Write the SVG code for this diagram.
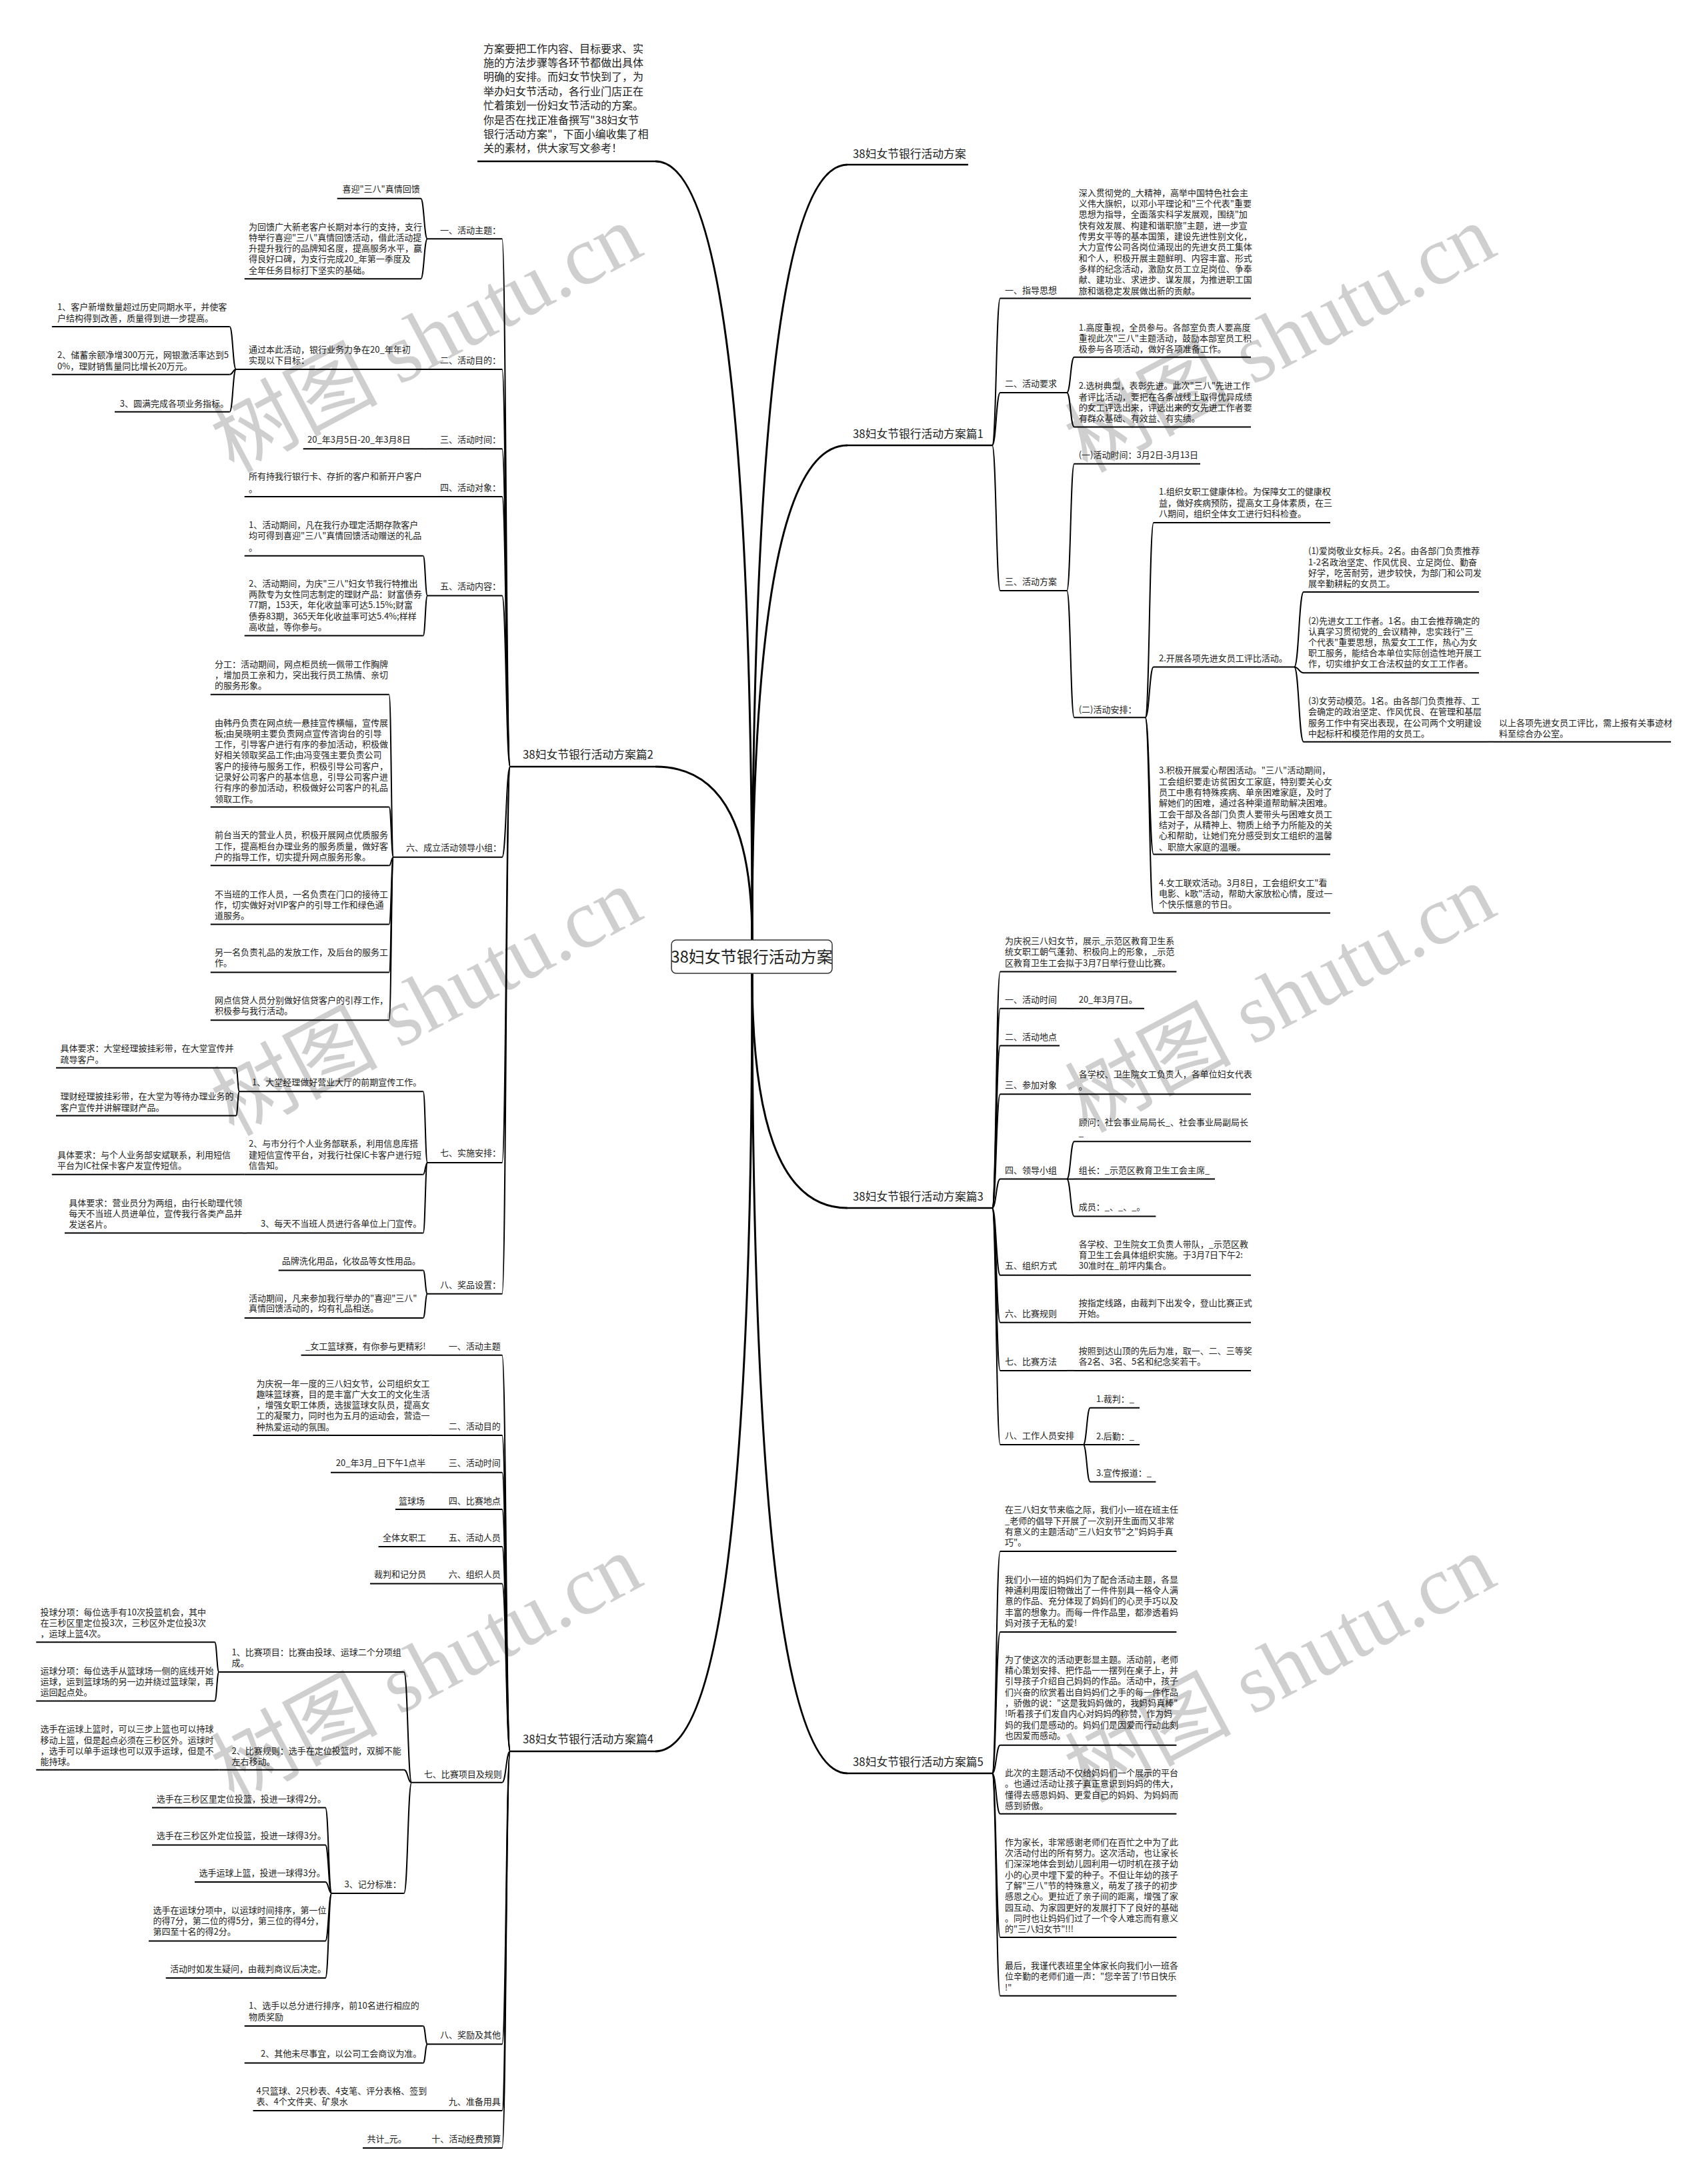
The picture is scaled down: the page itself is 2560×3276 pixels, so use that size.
<svg xmlns="http://www.w3.org/2000/svg" width="2560" height="3276" viewBox="0 0 2560 3276">
<style>
text{font-family:'Noto Sans CJK SC','Noto Sans',sans-serif;fill:#222}
.s{font-size:13px}
.m{font-size:16px}
.b{font-size:16.8px}
.r{font-size:24px}
.ul{stroke:#000;stroke-width:2;fill:none}
.ub{stroke:#000;stroke-width:2.5;fill:none}
.cn path{fill:none;stroke:#000;stroke-width:2}
.mb path{fill:none;stroke:#000;stroke-width:3}
.wm text{font-family:'Liberation Serif','Noto Sans CJK SC',serif;font-size:125px;fill:#000;fill-opacity:0.19}
</style>
<rect width="2560" height="3276" fill="#fff"/>
<g id="main-connectors" class="mb">
<path d="M983 242C1090.3 242 1128 709.2 1128 1410"/>
<path d="M1271 247C1165.2 247 1128 712.2 1128 1410"/>
<path d="M1271 668C1165.2 668 1128 964.8 1128 1410"/>
<path d="M983 1150C1090.3 1150 1128 1254 1128 1410"/>
<path d="M1271 1812C1165.2 1812 1128 1671.2 1128 1460"/>
<path d="M983 2627C1090.3 2627 1128 2160.2 1128 1460"/>
<path d="M1271 2660C1165.2 2660 1128 2180 1128 1460"/>
</g>
<g id="connectors" class="cn">
<path d="M1488 668C1494 668 1494 447.5 1500 447.5"/>
<path d="M1488 668C1494 668 1494 589 1500 589"/>
<path d="M1488 668C1494 668 1494 886 1500 886"/>
<path d="M1600 447.5H1611"/>
<path d="M1600 589C1605.5 589 1605.5 535.7 1611 535.7"/>
<path d="M1600 589C1605.5 589 1605.5 640.4 1611 640.4"/>
<path d="M1600 886C1605.5 886 1605.5 695.7 1611 695.7"/>
<path d="M1600 886C1605.5 886 1605.5 1076.3 1611 1076.3"/>
<path d="M1717.6 1076.3C1723.8 1076.3 1723.8 784 1730 784"/>
<path d="M1717.6 1076.3C1723.8 1076.3 1723.8 1000.5 1730 1000.5"/>
<path d="M1717.6 1076.3C1723.8 1076.3 1723.8 1281.4 1730 1281.4"/>
<path d="M1717.6 1076.3C1723.8 1076.3 1723.8 1369.5 1730 1369.5"/>
<path d="M1941 1000.5C1948 1000.5 1948 888 1955 888"/>
<path d="M1941 1000.5C1948 1000.5 1948 1009.3 1955 1009.3"/>
<path d="M1941 1000.5C1948 1000.5 1948 1112.7 1955 1112.7"/>
<path d="M2231 1112.7H2240"/>
<path d="M1488 1812C1494 1812 1494 1457.5 1500 1457.5"/>
<path d="M1488 1812C1494 1812 1494 1512.8 1500 1512.8"/>
<path d="M1488 1812C1494 1812 1494 1568.6 1500 1568.6"/>
<path d="M1488 1812C1494 1812 1494 1641.2 1500 1641.2"/>
<path d="M1488 1812C1494 1812 1494 1768.6 1500 1768.6"/>
<path d="M1488 1812C1494 1812 1494 1912.8 1500 1912.8"/>
<path d="M1488 1812C1494 1812 1494 1983.8 1500 1983.8"/>
<path d="M1488 1812C1494 1812 1494 2055.9 1500 2055.9"/>
<path d="M1488 1812C1494 1812 1494 2167 1500 2167"/>
<path d="M1600 1512.8H1611"/>
<path d="M1600 1641.2H1611"/>
<path d="M1600 1912.8H1611"/>
<path d="M1600 1983.8H1611"/>
<path d="M1600 2055.9H1611"/>
<path d="M1600 1768.6C1605.5 1768.6 1605.5 1712.2 1611 1712.2"/>
<path d="M1600 1768.6H1611"/>
<path d="M1600 1768.6C1605.5 1768.6 1605.5 1824.4 1611 1824.4"/>
<path d="M1624.6 2167C1629.8 2167 1629.8 2111.7 1635 2111.7"/>
<path d="M1624.6 2167H1635"/>
<path d="M1624.6 2167C1629.8 2167 1629.8 2222.8 1635 2222.8"/>
<path d="M1488 2660C1494 2660 1494 2327 1500 2327"/>
<path d="M1488 2660C1494 2660 1494 2447.9 1500 2447.9"/>
<path d="M1488 2660C1494 2660 1494 2617.8 1500 2617.8"/>
<path d="M1488 2660C1494 2660 1494 2720.8 1500 2720.8"/>
<path d="M1488 2660C1494 2660 1494 2906 1500 2906"/>
<path d="M1488 2660C1494 2660 1494 2993.8 1500 2993.8"/>
<path d="M765 1150C759 1150 759 358.3 753 358.3"/>
<path d="M765 1150C759 1150 759 554 753 554"/>
<path d="M765 1150C759 1150 759 673.3 753 673.3"/>
<path d="M765 1150C759 1150 759 745 753 745"/>
<path d="M765 1150C759 1150 759 893.4 753 893.4"/>
<path d="M765 1150C759 1150 759 1285.7 753 1285.7"/>
<path d="M765 1150C759 1150 759 1743.9 753 1743.9"/>
<path d="M765 1150C759 1150 759 1940.8 753 1940.8"/>
<path d="M641 358.3C636 358.3 636 297.7 631 297.7"/>
<path d="M641 358.3C636 358.3 636 418.3 631 418.3"/>
<path d="M641 554H635"/>
<path d="M641 673.3H635"/>
<path d="M641 745H635"/>
<path d="M354 554C349.2 554 349.2 490 344.4 490"/>
<path d="M354 554C349.2 554 349.2 561.7 344.4 561.7"/>
<path d="M354 554C349.2 554 349.2 617.7 344.4 617.7"/>
<path d="M641 893.4C637.8 893.4 637.8 833.7 634.6 833.7"/>
<path d="M641 893.4C637.8 893.4 637.8 953.5 634.6 953.5"/>
<path d="M590 1285.7C586.8 1285.7 586.8 1041.7 583.5 1041.7"/>
<path d="M590 1285.7C586.8 1285.7 586.8 1210.5 583.5 1210.5"/>
<path d="M590 1285.7C586.8 1285.7 586.8 1298.3 583.5 1298.3"/>
<path d="M590 1285.7C586.8 1285.7 586.8 1386.5 583.5 1386.5"/>
<path d="M590 1285.7C586.8 1285.7 586.8 1458.6 583.5 1458.6"/>
<path d="M590 1285.7C586.8 1285.7 586.8 1530.3 583.5 1530.3"/>
<path d="M641 1743.9C637.8 1743.9 637.8 1637.3 634.6 1637.3"/>
<path d="M641 1743.9C637.8 1743.9 637.8 1761.7 634.6 1761.7"/>
<path d="M641 1743.9C637.8 1743.9 637.8 1849.6 634.6 1849.6"/>
<path d="M359 1637.3C356.5 1637.3 356.5 1601.7 354 1601.7"/>
<path d="M359 1637.3C356.5 1637.3 356.5 1673.4 354 1673.4"/>
<path d="M366.7 1761.7H360"/>
<path d="M370 1849.6H364"/>
<path d="M641 1940.8C637.8 1940.8 637.8 1905.6 634.6 1905.6"/>
<path d="M641 1940.8C637.8 1940.8 637.8 1976.9 634.6 1976.9"/>
<path d="M765 2627C759 2627 759 2032.7 753 2032.7"/>
<path d="M765 2627C759 2627 759 2152.9 753 2152.9"/>
<path d="M765 2627C759 2627 759 2208.7 753 2208.7"/>
<path d="M765 2627C759 2627 759 2264 753 2264"/>
<path d="M765 2627C759 2627 759 2320 753 2320"/>
<path d="M765 2627C759 2627 759 2375.5 753 2375.5"/>
<path d="M765 2627C759 2627 759 2673.7 753 2673.7"/>
<path d="M765 2627C759 2627 759 3066.3 753 3066.3"/>
<path d="M765 2627C759 2627 759 3166 753 3166"/>
<path d="M765 2627C759 2627 759 3222 753 3222"/>
<path d="M648 2032.7H642"/>
<path d="M648 2152.9H642"/>
<path d="M648 2208.7H642"/>
<path d="M648 2264H642"/>
<path d="M648 2320H642"/>
<path d="M648 2375.5H642"/>
<path d="M648 3166H642"/>
<path d="M641 3222H635"/>
<path d="M617.3 2673.7C611.6 2673.7 611.6 2508 605.9 2508"/>
<path d="M617.3 2673.7C611.6 2673.7 611.6 2654.7 605.9 2654.7"/>
<path d="M617.3 2673.7C611.6 2673.7 611.6 2839.9 605.9 2839.9"/>
<path d="M328.4 2508C325.2 2508 325.2 2463.3 322 2463.3"/>
<path d="M328.4 2508C325.2 2508 325.2 2551.5 322 2551.5"/>
<path d="M328.4 2654.7H322"/>
<path d="M497.4 2839.9C492.7 2839.9 492.7 2711.5 488 2711.5"/>
<path d="M497.4 2839.9C492.7 2839.9 492.7 2767.5 488 2767.5"/>
<path d="M497.4 2839.9C492.7 2839.9 492.7 2823 488 2823"/>
<path d="M497.4 2839.9C492.7 2839.9 492.7 2911.4 488 2911.4"/>
<path d="M497.4 2839.9C492.7 2839.9 492.7 2967 488 2967"/>
<path d="M641 3066.3C637.8 3066.3 637.8 3039 634.6 3039"/>
<path d="M641 3066.3C637.8 3066.3 637.8 3094.5 634.6 3094.5"/>
</g>

<g id="root"><rect x="1007" y="1410" width="241" height="50" rx="7" fill="#fff" stroke="#333" stroke-width="1.5"/><text class="r" x="1127.5" y="1443.5" text-anchor="middle">38妇女节银行活动方案</text></g>

<g id="intro"><text class="m"><tspan x="725" y="78.6">方案要把工作内容、目标要求、实</tspan><tspan x="725" y="100">施的方法步骤等各环节都做出具体</tspan><tspan x="725" y="121.4">明确的安排。而妇女节快到了，为</tspan><tspan x="725" y="142.8">举办妇女节活动，各行业门店正在</tspan><tspan x="725" y="164.2">忙着策划一份妇女节活动的方案。</tspan><tspan x="725" y="185.6">你是否在找正准备撰写"38妇女节</tspan><tspan x="725" y="207">银行活动方案"，下面小编收集了相</tspan><tspan x="725" y="228.4">关的素材，供大家写文参考！</tspan></text><path class="ub" d="M716 242H983"/></g>

<g id="b0"><text class="b" x="1279" y="237">38妇女节银行活动方案</text><path class="ub" d="M1271 247H1452"/></g>

<g id="b1"><text class="b" x="1279" y="657">38妇女节银行活动方案篇1</text><path class="ub" d="M1271 668H1488"/></g>
<g id="b1-1"><text class="s" x="1507" y="440.2">一、指导思想</text><path class="ul" d="M1500 447.5H1600"/></g>
<g id="b1-1-1"><text class="s"><tspan x="1617.7" y="293.8">深入贯彻党的_大精神，高举中国特色社会主</tspan><tspan x="1617.7" y="310.1">义伟大旗帜，以邓小平理论和"三个代表"重要</tspan><tspan x="1617.7" y="326.4">思想为指导，全面落实科学发展观，围绕"加</tspan><tspan x="1617.7" y="342.7">快有效发展、构建和谐职旅"主题，进一步宣</tspan><tspan x="1617.7" y="359">传男女平等的基本国策，建设先进性别文化，</tspan><tspan x="1617.7" y="375.3">大力宣传公司各岗位涌现出的先进女员工集体</tspan><tspan x="1617.7" y="391.6">和个人，积极开展主题鲜明、内容丰富、形式</tspan><tspan x="1617.7" y="407.9">多样的纪念活动，激励女员工立足岗位、争奉</tspan><tspan x="1617.7" y="424.2">献、建功业、求进步、谋发展，为推进职工国</tspan><tspan x="1617.7" y="440.5">旅和谐稳定发展做出新的贡献。</tspan></text><path class="ul" d="M1611 447.5H1876"/></g>
<g id="b1-2"><text class="s" x="1507" y="579.5">二、活动要求</text><path class="ul" d="M1500 589H1600"/></g>
<g id="b1-2-1"><text class="s"><tspan x="1617.7" y="495.8">1.高度重视，全员参与。各部室负责人要高度</tspan><tspan x="1617.7" y="512.1">重视此次"三八"主题活动，鼓励本部室员工积</tspan><tspan x="1617.7" y="528.4">极参与各项活动，做好各项准备工作。</tspan></text><path class="ul" d="M1611 535.7H1876"/></g>
<g id="b1-2-2"><text class="s"><tspan x="1617.7" y="583.3">2.选树典型，表彰先进。此次"三八"先进工作</tspan><tspan x="1617.7" y="599.6">者评比活动，要把在各条战线上取得优异成绩</tspan><tspan x="1617.7" y="615.9">的女工评选出来，评选出来的女先进工作者要</tspan><tspan x="1617.7" y="632.2">有群众基础、有效益、有实绩。</tspan></text><path class="ul" d="M1611 640.4H1876"/></g>
<g id="b1-3"><text class="s" x="1507" y="877.2">三、活动方案</text><path class="ul" d="M1500 886H1600"/></g>
<g id="b1-3-1"><text class="s" x="1617.7" y="687.4">(一)活动时间：3月2日-3月13日</text><path class="ul" d="M1611 695.7H1800"/></g>
<g id="b1-3-2"><text class="s" x="1617.7" y="1068.5">(二)活动安排：</text><path class="ul" d="M1611 1076.3H1717.6"/></g>
<g id="b1-3-2-1"><text class="s"><tspan x="1738" y="742">1.组织女职工健康体检。为保障女工的健康权</tspan><tspan x="1738" y="758.5">益，做好疾病预防，提高女工身体素质，在三</tspan><tspan x="1738" y="775">八期间，组织全体女工进行妇科检查。</tspan></text><path class="ul" d="M1730 784H1995"/></g>
<g id="b1-3-2-2"><text class="s" x="1738" y="992">2.开展各项先进女员工评比活动。</text><path class="ul" d="M1730 1000.5H1941"/></g>
<g id="b1-3-2-2-1"><text class="s"><tspan x="1962" y="831.3">(1)爱岗敬业女标兵。2名。由各部门负责推荐</tspan><tspan x="1962" y="847.6">1-2名政治坚定、作风优良、立足岗位、勤奋</tspan><tspan x="1962" y="863.9">好学，吃苦耐劳，进步较快，为部门和公司发</tspan><tspan x="1962" y="880.2">展辛勤耕耘的女员工。</tspan></text><path class="ul" d="M1955 888H2218"/></g>
<g id="b1-3-2-2-2"><text class="s"><tspan x="1962" y="935.8">(2)先进女工工作者。1名。由工会推荐确定的</tspan><tspan x="1962" y="951.9">认真学习贯彻党的_会议精神，忠实践行"三</tspan><tspan x="1962" y="968">个代表"重要思想，热爱女工工作，热心为女</tspan><tspan x="1962" y="984.2">职工服务，能结合本单位实际创造性地开展工</tspan><tspan x="1962" y="1000.4">作，切实维护女工合法权益的女工工作者。</tspan></text><path class="ul" d="M1955 1009.3H2218"/></g>
<g id="b1-3-2-2-3"><text class="s"><tspan x="1962" y="1055.9">(3)女劳动模范。1名。由各部门负责推荐、工</tspan><tspan x="1962" y="1072.2">会确定的政治坚定、作风优良、在管理和基层</tspan><tspan x="1962" y="1088.5">服务工作中有突出表现，在公司两个文明建设</tspan><tspan x="1962" y="1104.8">中起标杆和模范作用的女员工。</tspan></text><path class="ul" d="M1955 1112.7H2231"/></g>
<g id="b1-3-2-2-3-1"><text class="s"><tspan x="2248" y="1088.5">以上各项先进女员工评比，需上报有关事迹材</tspan><tspan x="2248" y="1104.8">料至综合办公室。</tspan></text><path class="ul" d="M2240 1112.7H2506"/></g>
<g id="b1-3-2-3"><text class="s"><tspan x="1738" y="1160.4">3.积极开展爱心帮困活动。"三八"活动期间，</tspan><tspan x="1738" y="1176.7">工会组织要走访贫困女工家庭，特别要关心女</tspan><tspan x="1738" y="1193">员工中患有特殊疾病、单亲困难家庭，及时了</tspan><tspan x="1738" y="1209.3">解她们的困难，通过各种渠道帮助解决困难。</tspan><tspan x="1738" y="1225.6">工会干部及各部门负责人要带头与困难女员工</tspan><tspan x="1738" y="1241.9">结对子，从精神上、物质上给予力所能及的关</tspan><tspan x="1738" y="1258.2">心和帮助，让她们充分感受到女工组织的温馨</tspan><tspan x="1738" y="1274.5">、职旅大家庭的温暖。</tspan></text><path class="ul" d="M1730 1281.4H1995"/></g>
<g id="b1-3-2-4"><text class="s"><tspan x="1738" y="1328.8">4.女工联欢活动。3月8日，工会组织女工"看</tspan><tspan x="1738" y="1345.1">电影、k歌"活动，帮助大家放松心情，度过一</tspan><tspan x="1738" y="1361.4">个快乐惬意的节日。</tspan></text><path class="ul" d="M1730 1369.5H1995"/></g>

<g id="b3"><text class="b" x="1279" y="1801">38妇女节银行活动方案篇3</text><path class="ub" d="M1271 1812H1488"/></g>
<g id="b3-0"><text class="s"><tspan x="1507" y="1415.9">为庆祝三八妇女节，展示_示范区教育卫生系</tspan><tspan x="1507" y="1432.2">统女职工朝气蓬勃、积极向上的形象，_示范</tspan><tspan x="1507" y="1448.5">区教育卫生工会拟于3月7日举行登山比赛。</tspan></text><path class="ul" d="M1500 1457.5H1764.4"/></g>
<g id="b3-1"><text class="s" x="1507" y="1503.7">一、活动时间</text><path class="ul" d="M1500 1512.8H1600"/></g>
<g id="b3-1-1"><text class="s" x="1617.7" y="1503.7">20_年3月7日。</text><path class="ul" d="M1611 1512.8H1716"/></g>
<g id="b3-2"><text class="s" x="1507" y="1559.5">二、活动地点</text><path class="ul" d="M1500 1568.6H1589"/></g>
<g id="b3-3"><text class="s" x="1507" y="1632.2">三、参加对象</text><path class="ul" d="M1500 1641.2H1600"/></g>
<g id="b3-3-1"><text class="s"><tspan x="1617.7" y="1615.9">各学校、卫生院女工负责人，各单位妇女代表</tspan><tspan x="1617.7" y="1633.8">。</tspan></text><path class="ul" d="M1611 1641.2H1876"/></g>
<g id="b3-4"><text class="s" x="1507" y="1759.5">四、领导小组</text><path class="ul" d="M1500 1768.6H1600"/></g>
<g id="b3-4-1"><text class="s"><tspan x="1617.7" y="1688">顾问：社会事业局局长_、社会事业局副局长</tspan><tspan x="1617.7" y="1704.3">_</tspan></text><path class="ul" d="M1611 1712.2H1876"/></g>
<g id="b3-4-2"><text class="s" x="1617.7" y="1759.5">组长：_示范区教育卫生工会主席_</text><path class="ul" d="M1611 1768.6H1822"/></g>
<g id="b3-4-3"><text class="s" x="1617.7" y="1815.4">成员：_、_、_。</text><path class="ul" d="M1611 1824.4H1733.4"/></g>
<g id="b3-5"><text class="s" x="1507" y="1903.2">五、组织方式</text><path class="ul" d="M1500 1912.8H1600"/></g>
<g id="b3-5-1"><text class="s"><tspan x="1617.7" y="1870.7">各学校、卫生院女工负责人带队，_示范区教</tspan><tspan x="1617.7" y="1886.9">育卫生工会具体组织实施。于3月7日下午2:</tspan><tspan x="1617.7" y="1903.2">30准时在_前坪内集合。</tspan></text><path class="ul" d="M1611 1912.8H1876"/></g>
<g id="b3-6"><text class="s" x="1507" y="1975.3">六、比赛规则</text><path class="ul" d="M1500 1983.8H1600"/></g>
<g id="b3-6-1"><text class="s"><tspan x="1617.7" y="1959">按指定线路，由裁判下出发令，登山比赛正式</tspan><tspan x="1617.7" y="1975.3">开始。</tspan></text><path class="ul" d="M1611 1983.8H1876"/></g>
<g id="b3-7"><text class="s" x="1507" y="2046.8">七、比赛方法</text><path class="ul" d="M1500 2055.9H1600"/></g>
<g id="b3-7-1"><text class="s"><tspan x="1617.7" y="2030.5">按照到达山顶的先后为准，取一、二、三等奖</tspan><tspan x="1617.7" y="2046.8">各2名、3名、5名和纪念奖若干。</tspan></text><path class="ul" d="M1611 2055.9H1876"/></g>
<g id="b3-8"><text class="s" x="1507" y="2157.9">八、工作人员安排</text><path class="ul" d="M1500 2167H1624.6"/></g>
<g id="b3-8-1"><text class="s" x="1644" y="2102.6">1.裁判：_</text><path class="ul" d="M1635 2111.7H1709"/></g>
<g id="b3-8-2"><text class="s" x="1644" y="2159">2.后勤：_</text><path class="ul" d="M1635 2167H1709"/></g>
<g id="b3-8-3"><text class="s" x="1644" y="2213.8">3.宣传报道：_</text><path class="ul" d="M1635 2222.8H1733.4"/></g>

<g id="b5"><text class="b" x="1279" y="2649">38妇女节银行活动方案篇5</text><path class="ub" d="M1271 2660H1488"/></g>
<g id="b5-1"><text class="s"><tspan x="1507" y="2269.2">在三八妇女节来临之际，我们小一班在班主任</tspan><tspan x="1507" y="2285.5">_老师的倡导下开展了一次别开生面而又非常</tspan><tspan x="1507" y="2301.8">有意义的主题活动"三八妇女节"之"妈妈手真</tspan><tspan x="1507" y="2318.1">巧"。</tspan></text><path class="ul" d="M1500 2327H1764.4"/></g>
<g id="b5-2"><text class="s"><tspan x="1507" y="2373.8">我们小一班的妈妈们为了配合活动主题，各显</tspan><tspan x="1507" y="2390.1">神通利用废旧物做出了一件件别具一格令人满</tspan><tspan x="1507" y="2406.4">意的作品、充分体现了妈妈们的心灵手巧以及</tspan><tspan x="1507" y="2422.7">丰富的想象力。而每一件作品里，都渗透着妈</tspan><tspan x="1507" y="2439">妈对孩子无私的爱!</tspan></text><path class="ul" d="M1500 2447.9H1764.4"/></g>
<g id="b5-3"><text class="s"><tspan x="1507" y="2493.7">为了使这次的活动更彰显主题。活动前，老师</tspan><tspan x="1507" y="2510">精心策划安排、把作品一一摆列在桌子上，并</tspan><tspan x="1507" y="2526.3">引导孩子介绍自己妈妈的作品。活动中，孩子</tspan><tspan x="1507" y="2542.6">们兴奋的欣赏着出自妈妈们之手的每一件作品</tspan><tspan x="1507" y="2558.9">，骄傲的说："这是我妈妈做的，我妈妈真棒"</tspan><tspan x="1507" y="2575.2">!听着孩子们发自内心对妈妈的称赞，作为妈</tspan><tspan x="1507" y="2591.5">妈的我们是感动的。妈妈们是因爱而行动此刻</tspan><tspan x="1507" y="2607.8">也因爱而感动。</tspan></text><path class="ul" d="M1500 2617.8H1764.4"/></g>
<g id="b5-4"><text class="s"><tspan x="1507" y="2664.1">此次的主题活动不仅给妈妈们一个展示的平台</tspan><tspan x="1507" y="2680.4">。也通过活动让孩子真正意识到妈妈的伟大，</tspan><tspan x="1507" y="2696.7">懂得去感恩妈妈、更爱自己的妈妈、为妈妈而</tspan><tspan x="1507" y="2713">感到骄傲。</tspan></text><path class="ul" d="M1500 2720.8H1764.4"/></g>
<g id="b5-5"><text class="s"><tspan x="1507" y="2767.7">作为家长，非常感谢老师们在百忙之中为了此</tspan><tspan x="1507" y="2784">次活动付出的所有努力。这次活动，也让家长</tspan><tspan x="1507" y="2800.3">们深深地体会到幼儿园利用一切时机在孩子幼</tspan><tspan x="1507" y="2816.6">小的心灵中埋下爱的种子。不但让年幼的孩子</tspan><tspan x="1507" y="2832.9">了解"三八"节的特殊意义，萌发了孩子的初步</tspan><tspan x="1507" y="2849.2">感恩之心。更拉近了亲子间的距离，增强了家</tspan><tspan x="1507" y="2865.5">园互动、为家园更好的发展打下了良好的基础</tspan><tspan x="1507" y="2881.8">。同时也让妈妈们过了一个令人难忘而有意义</tspan><tspan x="1507" y="2898.1">的"三八妇女节"!!!</tspan></text><path class="ul" d="M1500 2906H1764.4"/></g>
<g id="b5-6"><text class="s"><tspan x="1507" y="2952.9">最后，我谨代表班里全体家长向我们小一班各</tspan><tspan x="1507" y="2969.2">位辛勤的老师们道一声："您辛苦了!节日快乐</tspan><tspan x="1507" y="2985.5">!"</tspan></text><path class="ul" d="M1500 2993.8H1764.4"/></g>

<g id="b2"><text class="b" x="784" y="1138">38妇女节银行活动方案篇2</text><path class="ub" d="M765 1150H983"/></g>
<g id="b2-1"><text class="s" x="660" y="349.5">一、活动主题：</text><path class="ul" d="M641 358.3H753"/></g>
<g id="b2-1-1"><text class="s" x="513.4" y="287.8">喜迎"三八"真情回馈</text><path class="ul" d="M505.7 297.7H631"/></g>
<g id="b2-1-2"><text class="s"><tspan x="373" y="344.5">为回馈广大新老客户长期对本行的支持，支行</tspan><tspan x="373" y="360.8">特举行喜迎"三八"真情回馈活动，借此活动提</tspan><tspan x="373" y="377.1">升提升我行的品牌知名度，提高服务水平，赢</tspan><tspan x="373" y="393.4">得良好口碑，为支行完成20_年第一季度及</tspan><tspan x="373" y="409.7">全年任务目标打下坚实的基础。</tspan></text><path class="ul" d="M366.7 418.3H631"/></g>
<g id="b2-2"><text class="s" x="660" y="545.2">二、活动目的：</text><path class="ul" d="M641 554H753"/></g>
<g id="b2-2-1"><text class="s"><tspan x="373" y="528.5">通过本此活动，银行业务力争在20_年年初</tspan><tspan x="373" y="545.2">实现以下目标：</tspan></text><path class="ul" d="M354 554H635"/></g>
<g id="b2-2-1-1"><text class="s"><tspan x="86" y="465.2">1、客户新增数量超过历史同期水平，并使客</tspan><tspan x="86" y="481.8">户结构得到改善，质量得到进一步提高。</tspan></text><path class="ul" d="M77.8 490H344.4"/></g>
<g id="b2-2-1-2"><text class="s"><tspan x="86" y="537.2">2、储蓄余额净增300万元，网银激活率达到5</tspan><tspan x="86" y="553.5">0%，理财销售量同比增长20万元。</tspan></text><path class="ul" d="M77.8 561.7H344.4"/></g>
<g id="b2-2-1-3"><text class="s" x="179.8" y="609.5">3、圆满完成各项业务指标。</text><path class="ul" d="M172 617.7H344.4"/></g>
<g id="b2-3"><text class="s" x="660" y="663.8">三、活动时间：</text><path class="ul" d="M641 673.3H753"/></g>
<g id="b2-3-1"><text class="s" x="461" y="663.8">20_年3月5日-20_年3月8日</text><path class="ul" d="M454.7 673.3H635"/></g>
<g id="b2-4"><text class="s" x="660" y="735.5">四、活动对象：</text><path class="ul" d="M641 745H753"/></g>
<g id="b2-4-1"><text class="s"><tspan x="373" y="718.8">所有持我行银行卡、存折的客户和新开户客户</tspan><tspan x="373" y="737.8">。</tspan></text><path class="ul" d="M366.7 745H635"/></g>
<g id="b2-5"><text class="s" x="660" y="883.7">五、活动内容：</text><path class="ul" d="M641 893.4H753"/></g>
<g id="b2-5-1"><text class="s"><tspan x="373" y="791.9">1、活动期间，凡在我行办理定活期存款客户</tspan><tspan x="373" y="807.8">均可得到喜迎"三八"真情回馈活动赠送的礼品</tspan><tspan x="373" y="826.3">。</tspan></text><path class="ul" d="M366.7 833.7H634.6"/></g>
<g id="b2-5-2"><text class="s"><tspan x="373" y="879.7">2、活动期间，为庆"三八"妇女节我行特推出</tspan><tspan x="373" y="896">两款专为女性同志制定的理财产品：财富债券</tspan><tspan x="373" y="912.3">77期，153天，年化收益率可达5.15%;财富</tspan><tspan x="373" y="928.6">债券83期，365天年化收益率可达5.4%;样样</tspan><tspan x="373" y="944.9">高收益，等你参与。</tspan></text><path class="ul" d="M366.7 953.5H634.6"/></g>
<g id="b2-6"><text class="s" x="609" y="1276.3">六、成立活动领导小组：</text><path class="ul" d="M590 1285.7H753"/></g>
<g id="b2-6-1"><text class="s"><tspan x="322" y="1000.7">分工：活动期间，网点柜员统一佩带工作胸牌</tspan><tspan x="322" y="1017">，增加员工亲和力，突出我行员工热情、亲切</tspan><tspan x="322" y="1033.3">的服务形象。</tspan></text><path class="ul" d="M315.7 1041.7H583.5"/></g>
<g id="b2-6-2"><text class="s"><tspan x="322" y="1088.5">由韩丹负责在网点统一悬挂宣传横幅，宣传展</tspan><tspan x="322" y="1104.8">板;由吴晓明主要负责网点宣传咨询台的引导</tspan><tspan x="322" y="1121.1">工作，引导客户进行有序的参加活动，积极做</tspan><tspan x="322" y="1137.4">好相关领取奖品工作;由冯变强主要负责公司</tspan><tspan x="322" y="1153.7">客户的接待与服务工作，积极引导公司客户，</tspan><tspan x="322" y="1170">记录好公司客户的基本信息，引导公司客户进</tspan><tspan x="322" y="1186.3">行有序的参加活动，积极做好公司客户的礼品</tspan><tspan x="322" y="1202.6">领取工作。</tspan></text><path class="ul" d="M315.7 1210.5H583.5"/></g>
<g id="b2-6-3"><text class="s"><tspan x="322" y="1257.4">前台当天的营业人员，积极开展网点优质服务</tspan><tspan x="322" y="1273.7">工作，提高柜台办理业务的服务质量，做好客</tspan><tspan x="322" y="1290">户的指导工作，切实提升网点服务形象。</tspan></text><path class="ul" d="M315.7 1298.3H583.5"/></g>
<g id="b2-6-4"><text class="s"><tspan x="322" y="1345.5">不当班的工作人员，一名负责在门口的接待工</tspan><tspan x="322" y="1361.8">作，切实做好对VIP客户的引导工作和绿色通</tspan><tspan x="322" y="1378.1">道服务。</tspan></text><path class="ul" d="M315.7 1386.5H583.5"/></g>
<g id="b2-6-5"><text class="s"><tspan x="322" y="1432.5">另一名负责礼品的发放工作，及后台的服务工</tspan><tspan x="322" y="1449">作。</tspan></text><path class="ul" d="M315.7 1458.6H583.5"/></g>
<g id="b2-6-6"><text class="s"><tspan x="322" y="1504.5">网点信贷人员分别做好信贷客户的引荐工作，</tspan><tspan x="322" y="1521.2">积极参与我行活动。</tspan></text><path class="ul" d="M315.7 1530.3H583.5"/></g>
<g id="b2-7"><text class="s" x="660" y="1733.9">七、实施安排：</text><path class="ul" d="M641 1743.9H753"/></g>
<g id="b2-7-1"><text class="s" x="378" y="1628.1">1、大堂经理做好营业大厅的前期宣传工作。</text><path class="ul" d="M359 1637.3H634.6"/></g>
<g id="b2-7-1-1"><text class="s"><tspan x="90.6" y="1577.1">具体要求：大堂经理披挂彩带，在大堂宣传并</tspan><tspan x="90.6" y="1593.7">疏导客户。</tspan></text><path class="ul" d="M84 1601.7H354"/></g>
<g id="b2-7-1-2"><text class="s"><tspan x="90.6" y="1648.9">理财经理披挂彩带，在大堂为等待办理业务的</tspan><tspan x="90.6" y="1665.5">客户宣传并讲解理财产品。</tspan></text><path class="ul" d="M84 1673.4H354"/></g>
<g id="b2-7-2"><text class="s"><tspan x="373" y="1720.2">2、与市分行个人业务部联系，利用信息库搭</tspan><tspan x="373" y="1736.8">建短信宣传平台，对我行社保IC卡客户进行短</tspan><tspan x="373" y="1753.3">信告知。</tspan></text><path class="ul" d="M366.7 1761.7H634.6"/></g>
<g id="b2-7-2-1"><text class="s"><tspan x="86" y="1736.8">具体要求：与个人业务部安斌联系，利用短信</tspan><tspan x="86" y="1753.3">平台为IC社保卡客户发宣传短信。</tspan></text><path class="ul" d="M77.8 1761.7H360"/></g>
<g id="b2-7-3"><text class="s" x="391" y="1840.4">3、每天不当班人员进行各单位上门宣传。</text><path class="ul" d="M370 1849.6H634.6"/></g>
<g id="b2-7-3-1"><text class="s"><tspan x="103.3" y="1808.5">具体要求：营业员分为两组，由行长助理代领</tspan><tspan x="103.3" y="1824.8">每天不当班人员进单位，宣传我行各类产品并</tspan><tspan x="103.3" y="1841.1">发送名片。</tspan></text><path class="ul" d="M97 1849.6H364"/></g>
<g id="b2-8"><text class="s" x="660" y="1932">八、奖品设置：</text><path class="ul" d="M641 1940.8H753"/></g>
<g id="b2-8-1"><text class="s" x="422.8" y="1895.5">品牌洗化用品，化妆品等女性用品。</text><path class="ul" d="M417.7 1905.6H634.6"/></g>
<g id="b2-8-2"><text class="s"><tspan x="373" y="1951.5">活动期间，凡来参加我行举办的"喜迎"三八"</tspan><tspan x="373" y="1967.3">真情回馈活动的，均有礼品相送。</tspan></text><path class="ul" d="M366.7 1976.9H634.6"/></g>

<g id="b4"><text class="b" x="784" y="2615">38妇女节银行活动方案篇4</text><path class="ub" d="M765 2627H983"/></g>
<g id="b4-1"><text class="s" x="672.8" y="2024.2">一、活动主题</text><path class="ul" d="M648 2032.7H753"/></g>
<g id="b4-1-1"><text class="s" x="458" y="2024.2">_女工篮球赛，有你参与更精彩!</text><path class="ul" d="M451.5 2032.7H642"/></g>
<g id="b4-2"><text class="s" x="672.8" y="2144">二、活动目的</text><path class="ul" d="M648 2152.9H753"/></g>
<g id="b4-2-1"><text class="s"><tspan x="384.6" y="2079.5">为庆祝一年一度的三八妇女节，公司组织女工</tspan><tspan x="384.6" y="2095.8">趣味篮球赛，目的是丰富广大女工的文化生活</tspan><tspan x="384.6" y="2112.1">，增强女职工体质，选拔篮球女队员，提高女</tspan><tspan x="384.6" y="2128.4">工的凝聚力，同时也为五月的运动会，营造一</tspan><tspan x="384.6" y="2144.7">种热爱运动的氛围。</tspan></text><path class="ul" d="M379.5 2152.9H642"/></g>
<g id="b4-3"><text class="s" x="672.8" y="2199.3">三、活动时间</text><path class="ul" d="M648 2208.7H753"/></g>
<g id="b4-3-1"><text class="s" x="503.8" y="2199.3">20_年3月_日下午1点半</text><path class="ul" d="M496 2208.7H642"/></g>
<g id="b4-4"><text class="s" x="672.8" y="2255.5">四、比赛地点</text><path class="ul" d="M648 2264H753"/></g>
<g id="b4-4-1"><text class="s" x="598" y="2255.5">篮球场</text><path class="ul" d="M593 2264H642"/></g>
<g id="b4-5"><text class="s" x="672.8" y="2310.8">五、活动人员</text><path class="ul" d="M648 2320H753"/></g>
<g id="b4-5-1"><text class="s" x="574" y="2310.8">全体女职工</text><path class="ul" d="M567.6 2320H642"/></g>
<g id="b4-6"><text class="s" x="672.8" y="2366.2">六、组织人员</text><path class="ul" d="M648 2375.5H753"/></g>
<g id="b4-6-1"><text class="s" x="561" y="2366.2">裁判和记分员</text><path class="ul" d="M555 2375.5H642"/></g>
<g id="b4-7"><text class="s" x="635.8" y="2665.5">七、比赛项目及规则</text><path class="ul" d="M617.3 2673.7H753"/></g>
<g id="b4-7-1"><text class="s"><tspan x="347.6" y="2482.8">1、比赛项目：比赛由投球、运球二个分项组</tspan><tspan x="347.6" y="2498.6">成。</tspan></text><path class="ul" d="M328.4 2508H605.9"/></g>
<g id="b4-7-1-1"><text class="s"><tspan x="60.6" y="2422.7">投球分项：每位选手有10次投篮机会，其中</tspan><tspan x="60.6" y="2439">在三秒区里定位投3次，三秒区外定位投3次</tspan><tspan x="60.6" y="2455.3">，运球上篮4次。</tspan></text><path class="ul" d="M54.2 2463.3H322"/></g>
<g id="b4-7-1-2"><text class="s"><tspan x="60.6" y="2510.5">运球分项：每位选手从篮球场一侧的底线开始</tspan><tspan x="60.6" y="2526.8">运球，运到篮球场的另一边并绕过篮球架，再</tspan><tspan x="60.6" y="2543.1">运回起点处。</tspan></text><path class="ul" d="M54.2 2551.5H322"/></g>
<g id="b4-7-2"><text class="s"><tspan x="347.6" y="2630.6">2、比赛规则：选手在定位投篮时，双脚不能</tspan><tspan x="347.6" y="2646.6">左右移动。</tspan></text><path class="ul" d="M328.4 2654.7H605.9"/></g>
<g id="b4-7-2-1"><text class="s"><tspan x="60.6" y="2598.4">选手在运球上篮时，可以三步上篮也可以持球</tspan><tspan x="60.6" y="2614.5">移动上篮，但是起点必须在三秒区外。运球时</tspan><tspan x="60.6" y="2630.6">，选手可以单手运球也可以双手运球，但是不</tspan><tspan x="60.6" y="2646.6">能持球。</tspan></text><path class="ul" d="M54.2 2654.7H322"/></g>
<g id="b4-7-3"><text class="s" x="516.6" y="2830.5">3、记分标准：</text><path class="ul" d="M497.4 2839.9H605.9"/></g>
<g id="b4-7-3-1"><text class="s" x="234.7" y="2702.5">选手在三秒区里定位投篮，投进一球得2分。</text><path class="ul" d="M228 2711.5H488"/></g>
<g id="b4-7-3-2"><text class="s" x="234.7" y="2758.1">选手在三秒区外定位投篮，投进一球得3分。</text><path class="ul" d="M228 2767.5H488"/></g>
<g id="b4-7-3-3"><text class="s" x="298.5" y="2813.7">选手运球上篮，投进一球得3分。</text><path class="ul" d="M292 2823H488"/></g>
<g id="b4-7-3-4"><text class="s"><tspan x="229.6" y="2869.7">选手在运球分项中，以运球时间排序，第一位</tspan><tspan x="229.6" y="2886">的得7分，第二位的得5分，第三位的得4分，</tspan><tspan x="229.6" y="2902.3">第四至十名的得2分。</tspan></text><path class="ul" d="M223 2911.4H488"/></g>
<g id="b4-7-3-5"><text class="s" x="255" y="2958">活动时如发生疑问，由裁判商议后决定。</text><path class="ul" d="M248.7 2967H488"/></g>
<g id="b4-8"><text class="s" x="660" y="3056.9">八、奖励及其他</text><path class="ul" d="M641 3066.3H753"/></g>
<g id="b4-8-1"><text class="s"><tspan x="373" y="3012.7">1、选手以总分进行排序，前10名进行相应的</tspan><tspan x="373" y="3029.5">物质奖励</tspan></text><path class="ul" d="M366.7 3039H634.6"/></g>
<g id="b4-8-2"><text class="s" x="391" y="3085.1">2、其他未尽事宜，以公司工会商议为准。</text><path class="ul" d="M366.7 3094.5H634.6"/></g>
<g id="b4-9"><text class="s" x="672.8" y="3156.7">九、准备用具</text><path class="ul" d="M648 3166H753"/></g>
<g id="b4-9-1"><text class="s"><tspan x="384.6" y="3141.1">4只篮球、2只秒表、4支笔、评分表格、签到</tspan><tspan x="384.6" y="3156.7">表、4个文件夹、矿泉水</tspan></text><path class="ul" d="M379.5 3166H642"/></g>
<g id="b4-10"><text class="s" x="647.3" y="3212.7">十、活动经费预算</text><path class="ul" d="M641 3222H753"/></g>
<g id="b4-10-1"><text class="s" x="550.4" y="3212.7">共计_元。</text><path class="ul" d="M544 3222H635"/></g>

<g id="watermarks" class="wm">
<text transform="translate(350 710) rotate(-28)">树图 shutu.cn</text>
<text transform="translate(1630 710) rotate(-28)">树图 shutu.cn</text>
<text transform="translate(350 1705) rotate(-28)">树图 shutu.cn</text>
<text transform="translate(1630 1700) rotate(-28)">树图 shutu.cn</text>
<text transform="translate(350 2705) rotate(-28)">树图 shutu.cn</text>
<text transform="translate(1630 2705) rotate(-28)">树图 shutu.cn</text>
</g>
</svg>
